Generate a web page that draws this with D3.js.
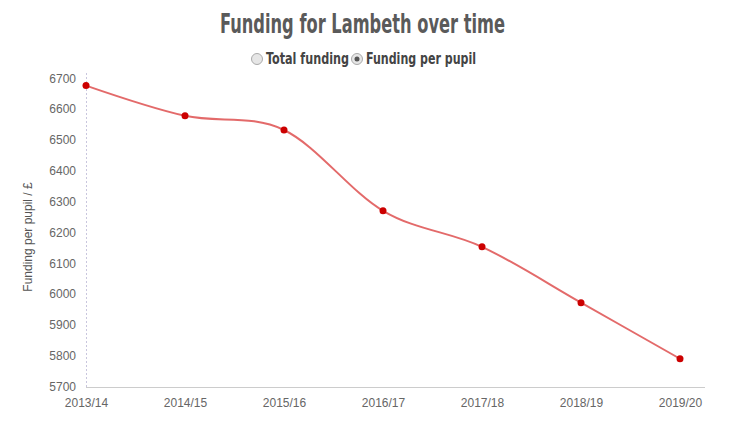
<!DOCTYPE html>
<html>
<head>
<meta charset="utf-8">
<script src="https://cdn.jsdelivr.net/npm/d3@7"></script>
<style>
  body { margin: 0; background: #fff; }
  .title { font-family: "DejaVu Sans Condensed", "DejaVu Sans", sans-serif; font-stretch: condensed; font-weight: bold; font-size: 26px; fill: #5a5a5a; }
  .legend text { font-family: "DejaVu Sans Condensed", "DejaVu Sans", sans-serif; font-stretch: condensed; font-weight: bold; font-size: 15px; fill: #444; }
  .tick text { font-family: "Liberation Sans", Arial, sans-serif; font-size: 12px; fill: #666; }
  .axis-label { font-family: "Liberation Sans", Arial, sans-serif; font-size: 12px; fill: #555; }
</style>
</head>
<body>
<div id="chart"></div>
<script>
const WIDTH = 746;
const HEIGHT = 430;

const years = ["2013/14", "2014/15", "2015/16", "2016/17", "2017/18", "2018/19", "2019/20"];
const perPupil = [6676, 6578, 6532, 6270, 6153, 5972, 5790];
const yTicks = [5700, 5800, 5900, 6000, 6100, 6200, 6300, 6400, 6500, 6600, 6700];
const legendItems = ["Total funding", "Funding per pupil"];

const svg = d3.select("#chart")
  .append("svg")
  .attr("width", WIDTH)
  .attr("height", HEIGHT);

const x = d3.scalePoint().domain(years).range([86, 680]);
const y = d3.scaleLinear().domain([5700, 6700]).range([386.5, 78.2]);

svg.append("text")
  .attr("class", "title")
  .attr("x", 220)
  .attr("y", 33)
  .attr("textLength", 285)
  .attr("lengthAdjust", "spacingAndGlyphs")
  .text("Funding for Lambeth over time");

// radio-style legend
const legend = svg.append("g").attr("class", "legend");
const legendX = [257, 357];
const legendW = [83, 110];
legend.selectAll("g")
  .data(legendItems)
  .join("g")
  .attr("transform", (_, i) => `translate(${legendX[i]},59)`)
  .each(function (d, i) {
    const g = d3.select(this);
    g.append("circle").attr("r", 5.5).attr("fill", "#e6e6e6").attr("stroke", "#aaa").attr("stroke-width", 1);
    if (i === 1) g.append("circle").attr("r", 2.5).attr("fill", "#555");
    g.append("text")
      .attr("x", 9)
      .attr("y", 5)
      .attr("textLength", legendW[i])
      .attr("lengthAdjust", "spacingAndGlyphs")
      .text(d);
  });

// y axis
const yAxis = svg.append("g")
  .attr("transform", "translate(86,0)")
  .call(d3.axisLeft(y).tickValues(yTicks).tickSize(0).tickPadding(10).tickFormat(d3.format("d")));
yAxis.select(".domain").remove();
svg.append("line")
  .attr("x1", 86.5).attr("x2", 86.5)
  .attr("y1", 73).attr("y2", 387)
  .attr("stroke", "#c9c6de")
  .attr("stroke-dasharray", "2,2");

// x axis
const xAxis = svg.append("g")
  .attr("transform", "translate(0,387)")
  .call(d3.axisBottom(x).tickSize(0).tickPadding(11));
xAxis.select(".domain").remove();
svg.append("line")
  .attr("x1", 86).attr("x2", 705)
  .attr("y1", 387.5).attr("y2", 387.5)
  .attr("stroke", "#ccc");

svg.append("text")
  .attr("class", "axis-label")
  .attr("transform", "rotate(-90)")
  .attr("x", -237)
  .attr("y", 32)
  .attr("text-anchor", "middle")
  .text("Funding per pupil / £");

const rows = years.map((yr, i) => ({ year: yr, value: perPupil[i] }));

const line = d3.line()
  .x((d) => x(d.year))
  .y((d) => y(d.value))
  .curve(d3.curveCardinal);

svg.append("path")
  .datum(rows)
  .attr("d", line)
  .attr("fill", "none")
  .attr("stroke", "#e05a5a")
  .attr("stroke-opacity", 0.9)
  .attr("stroke-width", 2);

svg.append("g")
  .selectAll("circle")
  .data(rows)
  .join("circle")
  .attr("cx", (d) => x(d.year))
  .attr("cy", (d) => y(d.value))
  .attr("r", 3.5)
  .attr("fill", "#cc0000");
</script>
</body>
</html>
